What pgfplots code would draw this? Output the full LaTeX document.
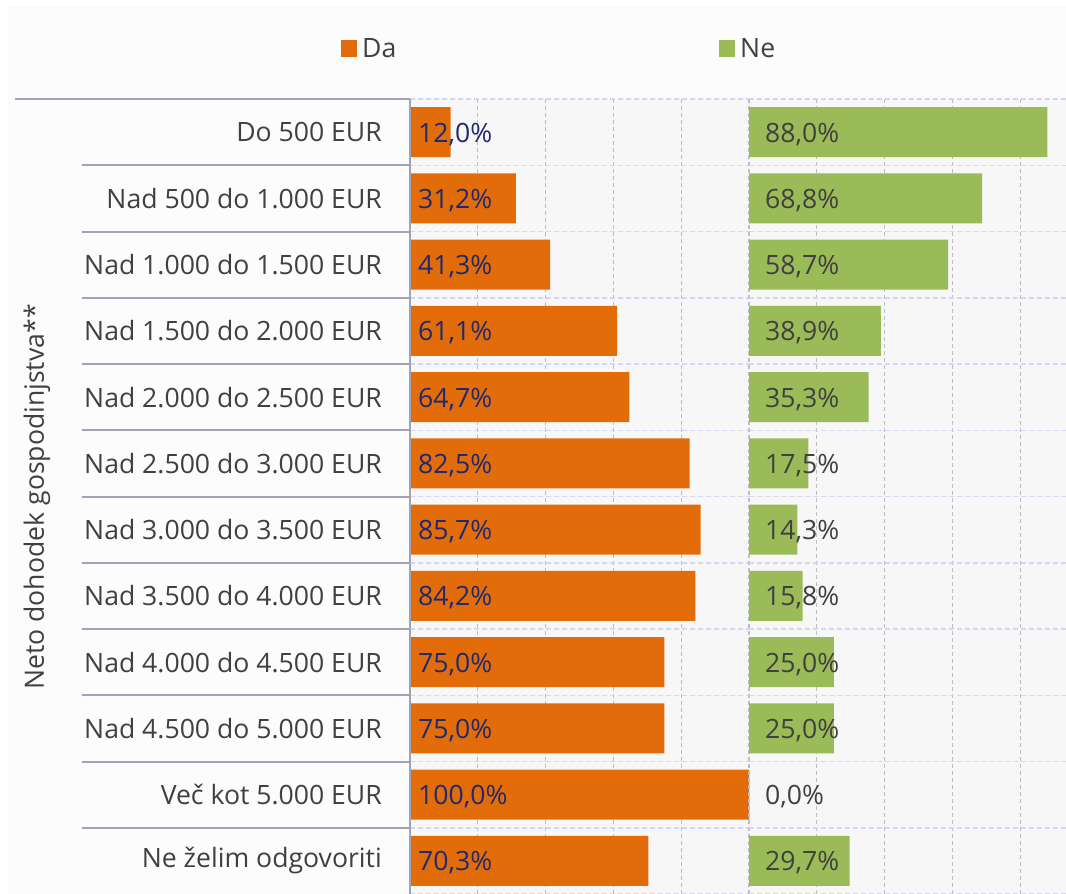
\documentclass[border=0pt]{standalone}
\usepackage{pgfplots}
\pgfplotsset{compat=1.18}
\usepackage{pgfplotstable}
\usepackage{fontspec}
\setmainfont{Open Sans}
\definecolor{da}{HTML}{E36C0A}
\definecolor{ne}{HTML}{9BBB59}
\definecolor{txt}{HTML}{404040}
\definecolor{navy}{HTML}{1F2A6E}
\definecolor{sep}{HTML}{A0A3B8}
\definecolor{hgrid}{HTML}{D4D7F2}
\definecolor{vgrid}{HTML}{BDBDCA}
\definecolor{plotbg}{HTML}{F7F7F7}
\definecolor{outbg}{HTML}{FCFCFC}

\pgfplotstableread{
y da ne
1 12.0 88.0
2 31.2 68.8
3 41.3 58.7
4 61.1 38.9
5 64.7 35.3
6 82.5 17.5
7 85.7 14.3
8 84.2 15.8
9 75.0 25.0
10 75.0 25.0
11 100.0 0.0
12 70.3 29.7
}\data

\newcommand{\fnt}{\fontsize{26.6}{32}\selectfont}
\newcommand{\lab}{\pgfmathprintnumber[assume math mode=true,fixed,fixed zerofill,precision=1,use comma]{\pgfplotspointmeta}\%}

\pgfplotsset{common/.style={
  scale only axis, height=795pt, ymin=0.5, ymax=12.5, y dir=reverse, xmin=0,
  axis line style={draw=none}, tick style={draw=none},
  xmajorgrids, ymajorgrids=false, yminorgrids,
  major grid style={vgrid, dash pattern=on 4pt off 3pt, line width=1.3pt},
  minor grid style={hgrid, dash pattern=on 5pt off 3pt, line width=1.5pt},
  ytick={1,...,12}, minor ytick={0.5,1.5,...,12.5},
  xticklabel={\mbox{}},
  tick label style={font=\fnt, text=txt},
}}

\begin{document}
\begin{tikzpicture}[font=\fnt]
\path[use as bounding box, fill=white] (0pt,0pt) rectangle (1066pt,-894pt);
\fill[outbg] (8pt,-6pt) rectangle (1066pt,-894pt);
\fill[plotbg] (410pt,-99pt) rectangle (1066pt,-894pt);

\begin{axis}[common, at={(410pt,-99pt)}, anchor=north west, width=339pt,
  xmax=100, xtick={0,20,...,100},
  yticklabels={Do 500 EUR, Nad 500 do 1.000 EUR, Nad 1.000 do 1.500 EUR, Nad 1.500 do 2.000 EUR, Nad 2.000 do 2.500 EUR, Nad 2.500 do 3.000 EUR, Nad 3.000 do 3.500 EUR, Nad 3.500 do 4.000 EUR, Nad 4.000 do 4.500 EUR, Nad 4.500 do 5.000 EUR, Več kot 5.000 EUR, Ne želim odgovoriti},
  yticklabel style={inner sep=0pt, xshift=-28pt},
]
\addplot[xbar, bar width=50pt, bar shift=0pt, fill=da, draw=none] table[x=da, y=y] {\data};
\addplot[draw=none, mark=none, point meta=explicit, nodes near coords={\lab},
  every node near coord/.style={anchor=west, inner sep=0pt, xshift=8pt, yshift=-2pt, text=navy, font=\fnt}]
  table[x expr=0, y=y, meta=da] {\data};
\end{axis}

\begin{axis}[common, at={(749pt,-99pt)}, anchor=north west, width=317pt,
  xmax=93.51, xtick={0,20,...,80}, yticklabel={\mbox{}},
]
\addplot[xbar, bar width=50pt, bar shift=0pt, fill=ne, draw=none] table[x=ne, y=y] {\data};
\addplot[draw=none, mark=none, point meta=explicit, nodes near coords={\lab},
  every node near coord/.style={anchor=west, inner sep=0pt, xshift=16pt, yshift=-2pt, text=txt, font=\fnt}]
  table[x expr=0, y=y, meta=ne] {\data};
\end{axis}

% separators in label area and axis line
\draw[sep, line width=2pt] (15pt,-99pt) -- (410pt,-99pt);
\foreach \k in {1,...,11} {
  \draw[sep, line width=2pt] (82pt,{-99pt-66.25pt*\k}) -- (410pt,{-99pt-66.25pt*\k});
}
\draw[sep, line width=2pt] (410pt,-99pt) -- (410pt,-894pt);

% y axis title
\node[rotate=90, text=txt, inner sep=0pt] at (37pt,-497pt) {Neto dohodek gospodinjstva**};

% legend
\fill[da] (341pt,-40pt) rectangle (357pt,-57pt);
\node[anchor=west, inner sep=0pt, text=txt] at (362pt,-48.5pt) {Da};
\fill[ne] (719pt,-40pt) rectangle (735pt,-57pt);
\node[anchor=west, inner sep=0pt, text=txt] at (740pt,-48.5pt) {Ne};
\end{tikzpicture}
\end{document}
